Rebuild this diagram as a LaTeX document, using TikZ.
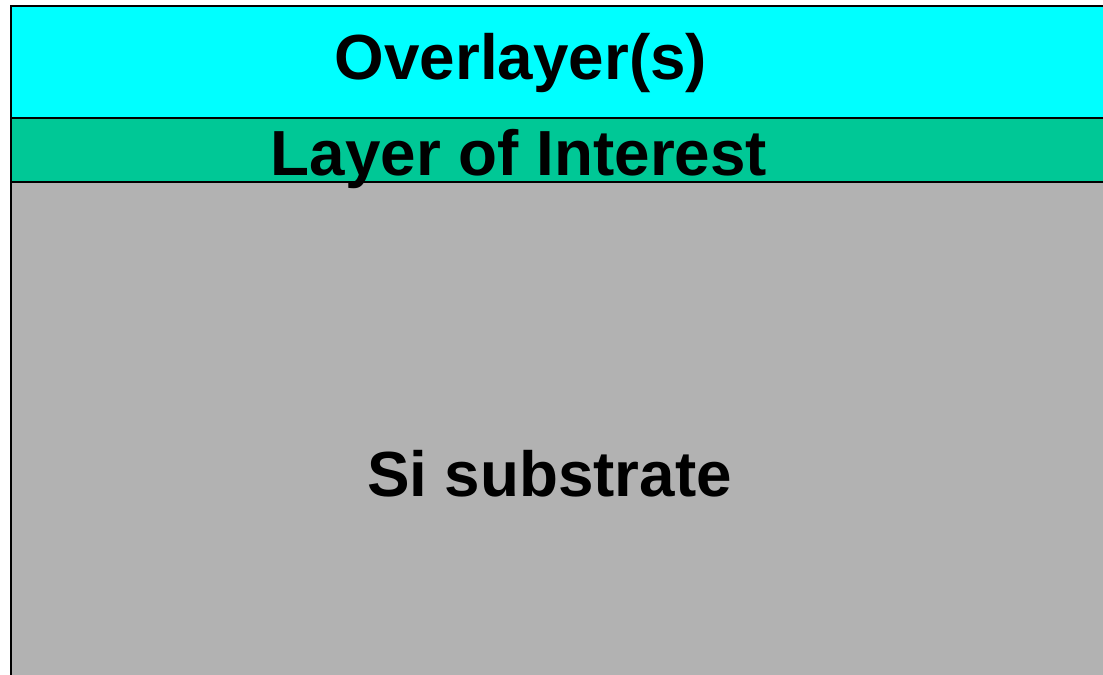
\documentclass[tikz,border=0pt]{standalone}
\usepackage{fontspec}
\setmainfont{Liberation Sans}
\definecolor{overcyan}{RGB}{0,255,255}
\definecolor{layergreen}{RGB}{0,200,150}
\definecolor{subgrey}{RGB}{178,178,178}
\begin{document}
\begin{tikzpicture}[x=1bp,y=-1bp,
  layerbox/.style={draw=black,line width=2bp},
  label/.style={anchor=base,inner sep=0pt,font=\fontsize{64}{70}\selectfont\bfseries}]
\path[use as bounding box] (0,0) rectangle (1103,675);
\begin{scope}
\clip (0,0) rectangle (1103,675);
\fill[white] (0,0) rectangle (1103,675);
% stack of layers, running past the right and bottom edges
\path[layerbox,fill=subgrey] (11,182) rectangle (1120,700);
\path[layerbox,fill=layergreen] (11,118) rectangle (1120,182);
\path[layerbox,fill=overcyan] (11,6) rectangle (1120,118);
\node[label] (over) at (521,80) {Overlayer(s)};
\node[label] (loi) at (519,176) {Layer of Interest};
\node[label] (si) at (549.5,496) {Si substrate};
\end{scope}
\end{tikzpicture}
\end{document}
